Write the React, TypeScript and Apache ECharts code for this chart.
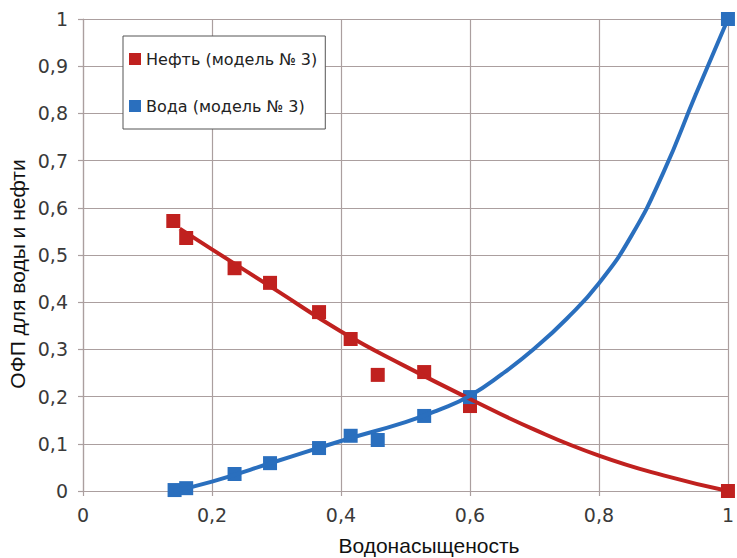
import React, { useEffect, useRef } from "react";
import * as echarts from "echarts";

// Measured points (water saturation vs relative permeability)
const oilX = [0.14, 0.16, 0.235, 0.29, 0.366, 0.415, 0.457, 0.529, 0.6, 1.0];
const oilY = [0.572, 0.536, 0.472, 0.441, 0.379, 0.322, 0.246, 0.252, 0.18, 0.0];
const waterX = [0.142, 0.16, 0.235, 0.29, 0.366, 0.415, 0.457, 0.529, 0.6, 1.0];
const waterY = [0.002, 0.006, 0.036, 0.059, 0.091, 0.117, 0.108, 0.159, 0.199, 1.0];

// Model curves
const oilFitX = [0.15, 0.2, 0.3, 0.4, 0.5, 0.6, 0.7, 0.8, 0.9, 1.0];
const oilFitY = [0.556, 0.512, 0.425, 0.338, 0.264, 0.195, 0.13, 0.075, 0.033, 0.0];
const waterFitX = [0.14, 0.2, 0.3, 0.4, 0.5, 0.55, 0.6, 0.65, 0.7, 0.75, 0.8, 0.85, 0.9, 0.95, 1.0];
const waterFitY = [0.0, 0.02, 0.063, 0.106, 0.146, 0.171, 0.202, 0.248, 0.302, 0.365, 0.44, 0.54, 0.675, 0.84, 1.0];

const oilName = "Нефть (модель № 3)";
const waterName = "Вода (модель № 3)";
const xTitle = "Водонасыщеность";
const yTitle = "ОФП для воды и нефти";

const RED = "#c0211f";
const BLUE = "#2a6fbe";
const GRID = "#ab9f9f";

const zip = (xs: number[], ys: number[]) => xs.map((x, i) => [x, ys[i]]);
const fmt = (v: number) => (v === 0 || v === 1 ? String(v) : String(Math.round(v * 10) / 10).replace(".", ","));

export default function App() {
  const ref = useRef<HTMLDivElement>(null);
  useEffect(() => {
    if (!ref.current) return;
    const chart = echarts.init(ref.current, null, { renderer: "svg" });
    const tickFont = { fontFamily: "DejaVu Sans", fontSize: 19, color: "#3a3a3a" };
    chart.setOption({
      animation: false,
      backgroundColor: "#ffffff",
      grid: { left: 83, right: 6, top: 19, bottom: 67, containLabel: false },
      xAxis: {
        type: "value",
        min: 0,
        max: 1,
        interval: 0.2,
        axisLine: { show: true, lineStyle: { color: GRID, width: 1.2 } },
        axisTick: { show: true, length: 5, lineStyle: { color: GRID, width: 1.2 } },
        splitLine: { show: true, lineStyle: { color: GRID, width: 1.2 } },
        axisLabel: { ...tickFont, margin: 14, formatter: fmt },
      },
      yAxis: {
        type: "value",
        min: 0,
        max: 1,
        interval: 0.1,
        axisLine: { show: true, lineStyle: { color: GRID, width: 1.2 } },
        axisTick: { show: true, length: 5, lineStyle: { color: GRID, width: 1.2 } },
        splitLine: { show: true, lineStyle: { color: GRID, width: 1.2 } },
        axisLabel: { ...tickFont, margin: 15, formatter: fmt },
      },
      legend: {
        orient: "vertical",
        left: 123,
        top: 36,
        padding: [15, 8, 15, 6],
        itemGap: 31,
        itemWidth: 12,
        itemHeight: 12,
        icon: "rect",
        backgroundColor: "#ffffff",
        borderColor: "#555555",
        borderWidth: 1,
        textStyle: { fontFamily: "DejaVu Sans", fontSize: 16, color: "#222222" },
        data: [oilName, waterName],
      },
      graphic: [
        {
          type: "text",
          x: 429,
          y: 545,
          style: {
            text: xTitle,
            fontFamily: "Liberation Sans",
            fontSize: 21,
            fill: "#111111",
            textAlign: "center",
            textVerticalAlign: "middle",
          },
        },
        {
          type: "text",
          x: 17,
          y: 274,
          rotation: Math.PI / 2,
          style: {
            text: yTitle,
            fontFamily: "Liberation Sans",
            fontSize: 21,
            fill: "#111111",
            textAlign: "center",
            textVerticalAlign: "middle",
          },
        },
      ],
      series: [
        {
          name: oilName,
          type: "scatter",
          symbol: "rect",
          symbolSize: 14,
          itemStyle: { color: RED, opacity: 1 },
          data: zip(oilX, oilY),
          z: 3,
        },
        {
          name: waterName,
          type: "scatter",
          symbol: "rect",
          symbolSize: 14,
          itemStyle: { color: BLUE, opacity: 1 },
          data: zip(waterX, waterY),
          z: 3,
        },
        {
          name: "oilFit",
          type: "line",
          smooth: 0.5,
          showSymbol: false,
          lineStyle: { color: RED, width: 4 },
          data: zip(oilFitX, oilFitY),
          z: 4,
        },
        {
          name: "waterFit",
          type: "line",
          smooth: 0.5,
          showSymbol: false,
          lineStyle: { color: BLUE, width: 4 },
          data: zip(waterFitX, waterFitY),
          z: 4,
        },
      ],
    });
    return () => chart.dispose();
  }, []);
  return (
    <div
      ref={ref}
      style={{ position: "fixed", left: 0, top: 0, width: 737, height: 558 }}
    />
  );
}
